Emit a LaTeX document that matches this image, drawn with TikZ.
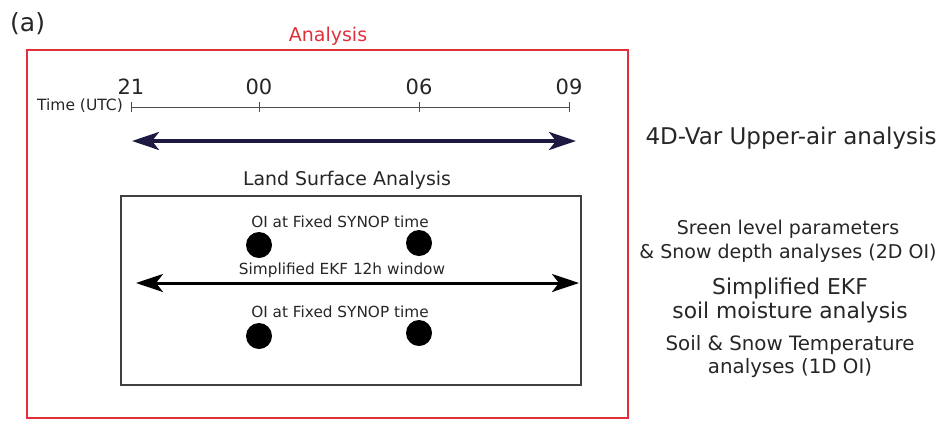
\documentclass[tikz,border=0pt]{standalone}
\usepackage{fontspec}
\setmainfont{DejaVu Sans}
\usetikzlibrary{arrows.meta}
\definecolor{framered}{HTML}{E0303A}
\definecolor{navyline}{HTML}{1C1A40}
\newcommand{\fsz}[1]{\fontsize{#1}{#1}\selectfont}
\tikzset{
  txt/.style={inner sep=0pt, text=black!85},
  dot/.style={circle, fill=black, minimum size=26pt, inner sep=0pt},
  bigarrow/.style={{Stealth[length=27pt,width=18pt,inset=7pt]}-{Stealth[length=27pt,width=18pt,inset=7pt]}},
  tick/.style={line width=1pt, black!70},
}
\begin{document}
\begin{tikzpicture}[x=1pt, y=-1pt]
\useasboundingbox (0,0) rectangle (952,421);
% outer analysis frame
\draw[framered, line width=1.4pt] (27,50) rectangle (628,418);
\node[txt, text=framered] (title) at (328,36) {\fsz{19}Analysis};
\node[txt, anchor=west] (panel) at (10,24) {\fsz{25}(a)};
% time axis
\coordinate (t21) at (131,107);
\coordinate (t00) at (259,107);
\coordinate (t06) at (419,107);
\coordinate (t09) at (569,107);
\draw[tick] (t21) -- (t09);
\foreach \c in {t21,t00,t06,t09} \draw[tick] ([yshift=-5pt]\c) -- ([yshift=5pt]\c);
\node[txt] (l21) at (131,87) {\fsz{21}21};
\node[txt] (l00) at (259,87) {\fsz{21}00};
\node[txt] (l06) at (419,87) {\fsz{21}06};
\node[txt] (l09) at (569,87) {\fsz{21}09};
\node[txt, anchor=east] (utc) at (123,106) {\fsz{15.5}Time (UTC)};
% 4D-Var window
\coordinate (ua) at (132,141);
\coordinate (ub) at (576,141);
\draw[bigarrow, navyline, line width=3.6pt] (ua) -- (ub);
\node[txt] (fdvar) at (791,138) {\fsz{23}4D-Var Upper-air analysis};
% land surface box
\node[txt] (lsa) at (347,180) {\fsz{18.9}Land Surface Analysis};
\draw[black!75, line width=1.2pt] (121,196) rectangle (581,385);
\node[txt] (oi1) at (340,222) {\fsz{15.3}OI at Fixed SYNOP time};
\node[dot] (d1) at (259,245) {};
\node[dot] (d2) at (419,243) {};
\node[txt] (ekf) at (342,270) {\fsz{15.3}Simplified EKF 12h window};
\coordinate (ea) at (136,283);
\coordinate (eb) at (579,283);
\draw[bigarrow, black, line width=3pt] (ea) -- (eb);
\node[txt] (oi2) at (340,312) {\fsz{15.3}OI at Fixed SYNOP time};
\node[dot] (d3) at (259,336) {};
\node[dot] (d4) at (419,333) {};
% right-hand descriptions
\node[txt] (sl1) at (788,229) {\fsz{19}Sreen level parameters};
\node[txt] (sl2) at (788,253) {\fsz{19}\& Snow depth analyses (2D OI)};
\node[txt] (sm1) at (790,288) {\fsz{21.8}Simplified EKF};
\node[txt] (sm2) at (790,312) {\fsz{21.8}soil moisture analysis};
\node[txt] (st1) at (790,345) {\fsz{19.8}Soil \& Snow Temperature};
\node[txt] (st2) at (790,368) {\fsz{19.8}analyses (1D OI)};
\end{tikzpicture}
\end{document}
